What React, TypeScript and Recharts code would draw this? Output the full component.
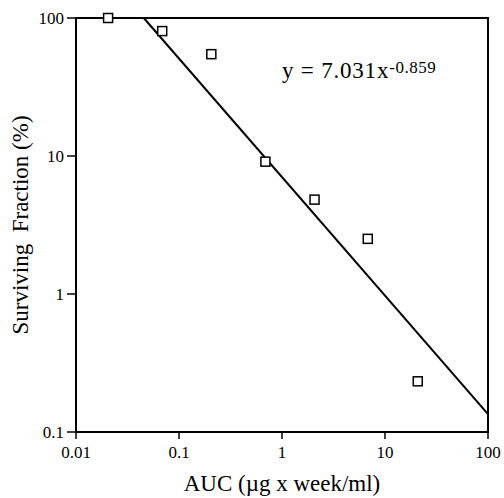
import React from 'react';
import { ScatterChart, Scatter, XAxis, YAxis, ReferenceDot, ReferenceArea } from 'recharts';

const aucValues = [0.0205, 0.0687, 0.206, 0.69, 2.07, 6.8, 20.8];
const survivingValues = [100, 80.4, 54.7, 9.1, 4.83, 2.51, 0.233];
const xTicks = [0.01, 0.1, 1, 10, 100];
const yTicks = [0.1, 1, 10, 100];
const fitCoefficient = 7.031;
const fitExponent = -0.859;
const fitRangeX = [0.0455, 100];

const points = aucValues.map((x, i) => ({ x, y: survivingValues[i] }));
const fitLine = fitRangeX.map((x) => ({ x, y: fitCoefficient * Math.pow(x, fitExponent) }));

const FONT = '"Liberation Serif", "Times New Roman", serif';

const SquareShape = (props: any) => {
  const { cx, cy } = props;
  if (cx == null || cy == null) return null;
  const s = 9;
  return <rect x={cx - s / 2} y={cy - s / 2} width={s} height={s} fill="#fff" stroke="#000" strokeWidth={1.5} />;
};

const NoShape = () => <g />;

const EquationLabel = (props: any) => {
  const vb = props.viewBox || {};
  const x = (vb.x ?? 0) + (vb.width ?? 0) / 2;
  const y = (vb.y ?? 0) + (vb.height ?? 0) / 2;
  return (
    <text x={x} y={y} fontFamily={FONT} fontSize={23} fill="#000" textAnchor="start" letterSpacing={0.8}>
      y = {fitCoefficient}x
      <tspan dy={-5} fontSize={17} letterSpacing={0.5}>{fitExponent}</tspan>
    </text>
  );
};

export default function App() {
  const tickStyle = { fontFamily: FONT, fontSize: 17, fill: '#000' };
  return (
    <div style={{ position: 'absolute', left: 0, top: 0, background: '#fff' }}>
      <ScatterChart width={504} height={498} margin={{ top: 18, right: 16, bottom: 4, left: 16 }}>
        <XAxis
          xAxisId="b"
          dataKey="x"
          type="number"
          scale="log"
          domain={[0.01, 100]}
          ticks={xTicks}
          height={62}
          stroke="#000"
          strokeWidth={2}
          tickSize={7}
          tickMargin={7}
          tick={tickStyle}
          tickLine={{ stroke: '#000', strokeWidth: 1.5 }}
          label={{ value: 'AUC (µg x week/ml)', position: 'insideBottom', offset: 3, style: { fontFamily: FONT, fontSize: 23, fill: '#000' } }}
        />
        <YAxis
          yAxisId="l"
          dataKey="y"
          type="number"
          scale="log"
          domain={[0.1, 100]}
          ticks={yTicks}
          width={60}
          stroke="#000"
          strokeWidth={2}
          tickSize={9}
          tickMargin={3}
          tick={tickStyle}
          tickLine={{ stroke: '#000', strokeWidth: 1.5 }}
          label={{ value: 'Surviving\u00a0\u00a0Fraction (%)', angle: -90, position: 'insideLeft', offset: 4, style: { fontFamily: FONT, fontSize: 23, fill: '#000', textAnchor: 'middle' } }}
        />
        <ReferenceArea xAxisId="b" yAxisId="l" x1={0.01} x2={100} y1={0.1} y2={100} fill="none" fillOpacity={0} stroke="#000" strokeWidth={2} ifOverflow="visible" />
        <Scatter xAxisId="b" yAxisId="l" data={fitLine} line={{ stroke: '#000', strokeWidth: 2 }} lineType="joint" shape={<NoShape />} isAnimationActive={false} />
        <Scatter xAxisId="b" yAxisId="l" data={points} shape={<SquareShape />} isAnimationActive={false} />
        <ReferenceDot xAxisId="b" yAxisId="l" x={1} y={37} r={1} fill="none" stroke="none" label={<EquationLabel />} />
      </ScatterChart>
    </div>
  );
}
